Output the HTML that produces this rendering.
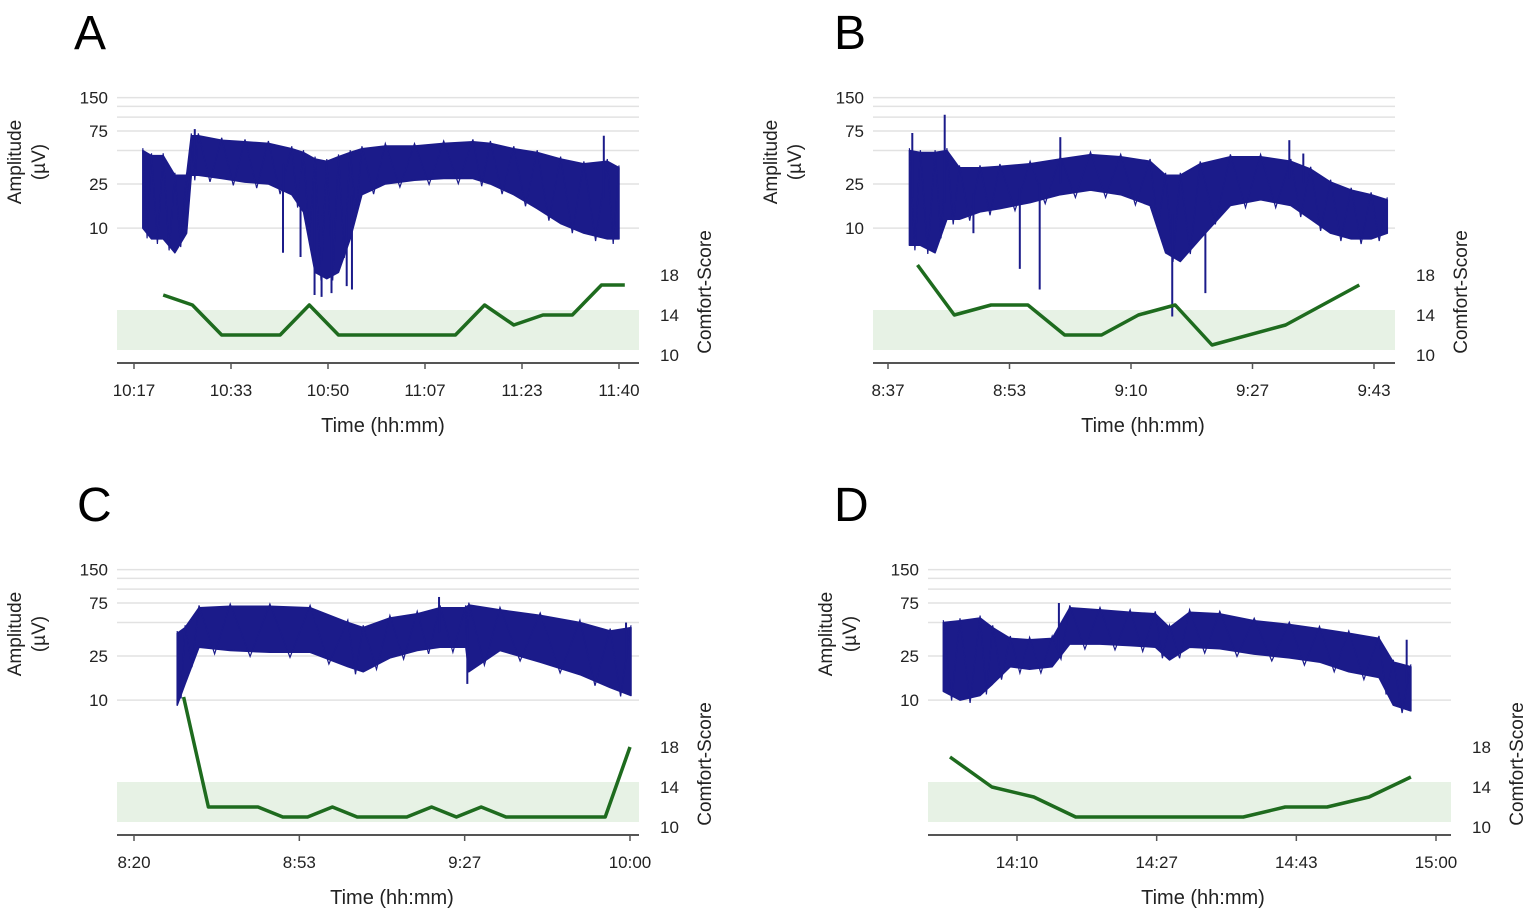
<!DOCTYPE html>
<html><head><meta charset="utf-8"><style>
html,body{margin:0;padding:0;background:#fff;}
svg{display:block;font-family:"Liberation Sans",Arial,sans-serif;}
</style></head><body>
<svg id="fig" width="1535" height="920" viewBox="0 0 1535 920"></svg>
<script>
// ---------- Panel A data ----------
const aTimes = [618.5,620,622,624,626,626.8,628,632,636,640,644,646,648,650,652,654,656,660,665,670,675,678,682,686,690,694,698,700];
const aHi = [50,45,45,30,30,68,68,62,60,58,52,48,42,40,44,48,52,55,55,58,60,58,52,48,42,38,40,35];
const aLo = [10,8,8,6,9,30,30,28,26,25,20,14,4,3.5,4,8,20,25,27,28,28,25,20,15,11,9,8,8];
const aSpikeT = [627.4,642.5,645.5,647.9,649.1,650.8,653.4,654.3,697.4];
const aSpikeV = [78,6,5.5,2.5,2.4,2.6,3,2.8,68];
const aComfortT = [622,627,632,642,647,652,672,677,682,687,692,697,701];
const aComfortV = [16,15,12,12,15,12,12,15,13,14,14,17,17];
const aTickLabels = ["10:17","10:33","10:50","11:07","11:23","11:40"];
// ---------- Panel B data ----------
const bTimes = [519.9,521.4,523.4,525.0,526.7,529.5,532.2,536.3,540.4,544.5,548.6,552.6,554.7,556.7,559.4,563.5,567.6,571.7,574.4,577.1,579.9,582.6,584.8];
const bHi = [50,48,48,50,35,35,36,38,42,46,44,40,30,30,38,44,44,40,34,26,22,20,18];
const bLo = [7,7,6,12,12,14,15,17,20,22,20,16,6,5,8,16,18,16,12,9,8,8,9];
const bSpikeT = [520.3,524.7,528.6,534.9,537.6,555.6,560.1,540.4,571.5,573.4];
const bSpikeV = [72,105,9,4.3,2.8,1.6,2.6,66,62,47];
const bComfortT = [521,526,531,536,541,546,551,556,561,571,581];
const bComfortV = [19,14,15,15,12,12,14,15,11,13,17];
const bTickLabels = ["8:37","8:53","9:10","9:27","9:43"];
// ---------- Panel C data ----------
const cTimes = [508.7,510.3,513.1,519.4,527.4,535.5,543.1,546.2,551.6,557.1,561.7,566.9,567.5,573.8,581.9,589.9,596,600.2];
const cHi = [40,45,68,70,70,68,50,45,55,60,68,68,72,65,58,50,42,45];
const cLo = [9,14,30,28,27,27,20,18,24,28,30,30,18,28,22,17,13,11];
const cSpikeT = [561.5,567.2,599.2];
const cSpikeV = [85,14,50];
const cComfortT = [510,515,525,530,535,540,545,555,560,565,570,575,595,600];
const cComfortV = [23,12,12,11,11,12,11,11,12,11,12,11,11,18];
const cTickLabels = ["8:20","8:53","9:27","10:00"];
// ---------- Panel D data ----------
const dTimes = [841.2,843.2,845.6,847.1,849.2,851.5,854.2,856.3,859.9,863.5,866.5,868.2,870.6,874.2,878.3,882.5,886.1,889.6,893.2,894.9,897];
const dHi = [50,52,55,45,36,35,36,68,65,62,60,45,62,60,52,48,44,40,36,22,20];
const dLo = [12,10,11,14,20,19,20,32,32,31,30,23,30,29,26,24,22,18,16,9,8];
const dSpikeT = [855,896.5];
const dSpikeV = [75,35];
const dComfortT = [842,847,852,857,877,882,887,892,897];
const dComfortV = [17,14,13,11,11,12,12,13,15];
const dTickLabels = ["14:10","14:27","14:43","15:00"];

const gridVals = [150,125,100,75,50,25,10];
const ampLabels = [150,75,25,10];
const comfortTicks = [18,14,10];

const NS = "http://www.w3.org/2000/svg";
const svg = document.getElementById("fig");
function el(tag, attrs, parent){
  const e = document.createElementNS(NS, tag);
  for (const k in attrs) e.setAttribute(k, attrs[k]);
  (parent||svg).appendChild(e);
  return e;
}
function txt(s, attrs, parent){ const e = el("text", attrs, parent); e.textContent = s; return e; }

function panel(cfg){
  const g = el("g", {});
  
  
  const b = cfg.base;
  const yA = v => b + 131 - 111*Math.log10(v/75);
  const yC = c => b + 275 - (c-18)*10;
  const xT = t => cfg.x0 + (t - cfg.t0)*cfg.ppm;

  const L = txt(cfg.letter, {x:cfg.letterX, y:b+49, "font-size":48, fill:"#000"}, g);
  
  

  gridVals.forEach(v=>{
    const ln = el("line",{x1:cfg.ax0,x2:cfg.ax1,y1:yA(v),y2:yA(v),stroke:"#e2e2e2","stroke-width":1.5},g);
    
    
  });
  ampLabels.forEach(v=>{
    const t = txt(String(v),{x:cfg.ax0-9,y:yA(v)+6,"font-size":17,"text-anchor":"end",fill:"#222"},g);
    
    
  });
  const band = el("rect",{x:cfg.ax0,y:yC(14.5),width:cfg.ax1-cfg.ax0,height:yC(10.5)-yC(14.5),fill:"#e7f2e5"},g);
  
  

  let pts = [];
  cfg.times.forEach((t,i)=>pts.push(xT(t).toFixed(1)+","+yA(cfg.hi[i]).toFixed(1)));
  for (let i=cfg.times.length-1;i>=0;i--) pts.push(xT(cfg.times[i]).toFixed(1)+","+yA(cfg.lo[i]).toFixed(1));
  const poly = el("polygon",{points:pts.join(" "),fill:"#1b1b8a",stroke:"#1b1b8a","stroke-width":1.5,"stroke-linejoin":"round"},g);
  
  
  let zz = [];
  cfg.times.forEach((t,i)=>{ zz.push(xT(t).toFixed(1)+","+yA(cfg.hi[i]*1.05).toFixed(1)); if(i<cfg.times.length-1){ const tm=(t+cfg.times[i+1])/2; zz.push(xT(tm).toFixed(1)+","+yA((cfg.lo[i]+cfg.lo[i+1])/2*0.9).toFixed(1)); }});
  const z = el("polyline",{points:zz.join(" "),fill:"none",stroke:"#1b1b8a","stroke-width":1.2},g);
  
  
  cfg.spikeT.forEach((t,i)=>{
    let j=0; while(j<cfg.times.length-1 && cfg.times[j+1]<t) j++;
    const mid = Math.sqrt(cfg.hi[j]*cfg.lo[j]);
    const s = el("line",{x1:xT(t),x2:xT(t),y1:yA(mid),y2:yA(cfg.spikeV[i]),stroke:"#1b1b8a","stroke-width":2},g);
    
    
  });

  const cp = cfg.ct.map((t,i)=>xT(t).toFixed(1)+","+yC(cfg.cv[i]).toFixed(1)).join(" ");
  const cl = el("polyline",{points:cp,fill:"none",stroke:"#1e6b1e","stroke-width":3.5,"stroke-linejoin":"round"},g);
  
  
  comfortTicks.forEach(c=>{
    const t = txt(String(c),{x:cfg.ax1+21,y:yC(c)+6,"font-size":17,fill:"#222"},g);
    
    
  });

  const ax = el("line",{x1:cfg.ax0,x2:cfg.ax1,y1:b+363,y2:b+363,stroke:"#555","stroke-width":2},g);
  
  
  const n = cfg.labels.length;
  cfg.labels.forEach((lab,i)=>{
    const t = cfg.t0 + i*(cfg.t1-cfg.t0)/(n-1);
    const x = xT(t);
    const tk = el("line",{x1:x,x2:x,y1:b+363,y2:b+369,stroke:"#555","stroke-width":1.5},g);
    
    
    const tl = txt(lab,{x:x,y:b+396,"font-size":17,"text-anchor":"middle",fill:"#222"},g);
    
    
  });
  const xt = txt("Time (hh:mm)",{x:cfg.timeX,y:b+432,"font-size":20,"text-anchor":"middle",fill:"#222"},g);
  
  

  const yt = el("text",{transform:`translate(${cfg.ampX},${b+162}) rotate(-90)`,"font-size":19,"text-anchor":"middle",fill:"#222"},g);
  
  
  const t1 = el("tspan",{x:0,y:0},yt); t1.textContent="Amplitude";
  const t2 = el("tspan",{x:0,y:24},yt); t2.textContent="(µV)";

  const ct = txt("Comfort-Score",{transform:`translate(${cfg.ax1+72},${b+292}) rotate(-90)`,"font-size":19,"text-anchor":"middle",fill:"#222"},g);
  
  
}

panel({letter:"A",letterX:74,base:0,ax0:117,ax1:639,x0:134,t0:617,t1:700,ppm:(619-134)/83,
  times:aTimes,hi:aHi,lo:aLo,spikeT:aSpikeT,spikeV:aSpikeV,ct:aComfortT,cv:aComfortV,labels:aTickLabels,timeX:383,ampX:21});
panel({letter:"B",letterX:834,base:0,ax0:873,ax1:1395,x0:888,t0:517,t1:583,ppm:(1374-888)/66,
  times:bTimes,hi:bHi,lo:bLo,spikeT:bSpikeT,spikeV:bSpikeV,ct:bComfortT,cv:bComfortV,labels:bTickLabels,timeX:1143,ampX:777});
panel({letter:"C",letterX:77,base:472,ax0:117,ax1:639,x0:134,t0:500,t1:600,ppm:(630-134)/100,
  times:cTimes,hi:cHi,lo:cLo,spikeT:cSpikeT,spikeV:cSpikeV,ct:cComfortT,cv:cComfortV,labels:cTickLabels,timeX:392,ampX:21});
panel({letter:"D",letterX:834,base:472,ax0:928,ax1:1451,x0:1017,t0:850,t1:900,ppm:(1436-1017)/50,
  times:dTimes,hi:dHi,lo:dLo,spikeT:dSpikeT,spikeV:dSpikeV,ct:dComfortT,cv:dComfortV,labels:dTickLabels,timeX:1203,ampX:832});
</script>
</body></html>
